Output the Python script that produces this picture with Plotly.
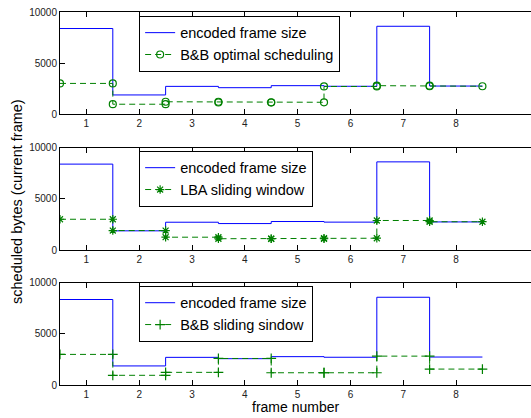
import plotly.graph_objects as go
from plotly.subplots import make_subplots

frames = [1, 2, 3, 4, 5, 6, 7, 8]
encoded_size = [8380, 1870, 2710, 2580, 2780, 2720, 8600, 2740]
bb_optimal = [3000, 960, 1200, 1130, 1150, 2700, 2780, 2720]
lba_sliding = [3000, 1900, 1250, 1100, 1100, 1150, 2880, 2760]
bb_sliding = [3000, 950, 1240, 2600, 1200, 1200, 2830, 1560]

x_ticks = [1, 2, 3, 4, 5, 6, 7, 8]
y_ticks = [0, 5000, 10000]
y_tick_text = ["0", "5000", "10000"]

series = [
    ("B&B optimal scheduling", bb_optimal, "circle-open"),
    ("LBA sliding window", lba_sliding, "asterisk-open"),
    ("B&B sliding sindow", bb_sliding, "cross-thin-open"),
]

FONT = "Liberation Sans, Arial, Helvetica, sans-serif"
BLUE = "#0000FF"
GREEN = "#008000"

fig = make_subplots(rows=3, cols=1, vertical_spacing=0.0)

stair_x = [f - 0.5 for f in frames] + [frames[-1] + 0.5]
stair_y = encoded_size + [encoded_size[-1]]

domains = [[0.7265, 1.0], [0.3619, 0.6367], [0.0, 0.2735]]
legend_tops = [0.990, 0.628, 0.266]

for i, (name, vals, sym) in enumerate(series):
    row = i + 1
    lg = "legend" if i == 0 else f"legend{i + 1}"
    fig.add_trace(go.Scatter(
        x=stair_x, y=stair_y, mode="lines", line_shape="hv",
        line=dict(color=BLUE, width=1), name="encoded frame size",
        legend=lg, showlegend=True,
    ), row=row, col=1)
    gx, gy = [], []
    for f, v in zip(frames, vals):
        gx += [f - 0.5, f + 0.5]
        gy += [v, v]
    fig.add_trace(go.Scatter(
        x=gx, y=gy, mode="lines+markers",
        line=dict(color=GREEN, width=1, dash="6px,4px"),
        marker=dict(symbol=sym, size=7, color=GREEN, line=dict(color=GREEN, width=1.2)),
        name=name, legend=lg, showlegend=True,
    ), row=row, col=1)

    ax = "" if row == 1 else str(row)
    fig.layout[f"xaxis{ax}"].update(
        range=[0.5, 9.42], tickvals=x_ticks, ticks="inside", ticklen=5,
        tickcolor="black", automargin=False,
        showline=True, linecolor="black", linewidth=1, mirror="ticks",
        showgrid=False, zeroline=False, tickfont=dict(size=10, color="#222", family=FONT),
    )
    fig.layout[f"yaxis{ax}"].update(
        range=[0, 10000], tickvals=y_ticks, ticktext=y_tick_text, ticks="inside", ticklen=5,
        tickcolor="black", automargin=False,
        showline=True, linecolor="black", linewidth=1, mirror=False,
        showgrid=False, zeroline=False, domain=domains[i],
        tickfont=dict(size=10, color="#222", family=FONT),
    )
    fig.layout[lg] = dict(
        x=0.168, y=legend_tops[i], xanchor="left", yanchor="top",
        bgcolor="white", bordercolor="black", borderwidth=1,
        font=dict(size=14.5, family=FONT, color="black"),
        itemwidth=30, tracegroupgap=0,
    )

fig.add_annotation(
    text="frame number", xref="paper", yref="paper", x=0.5, y=-0.059,
    xanchor="center", yanchor="middle", showarrow=False,
    font=dict(size=14, family=FONT, color="black"),
)
fig.add_annotation(
    text="scheduled bytes (current frame)", textangle=-90,
    xref="paper", yref="paper", x=-0.0913, y=0.4933,
    xanchor="center", yanchor="middle",
    showarrow=False, font=dict(size=14.5, family=FONT, color="black"),
)

fig.update_layout(
    template="none",
    width=531, height=418,
    margin=dict(l=60, r=0, t=12, b=33, autoexpand=False),
    plot_bgcolor="white", paper_bgcolor="white",
    font=dict(family=FONT),
)

fig.write_html(
    "out.html",
    config={"displayModeBar": False},
    post_script="document.body.style.margin='0px';document.body.style.overflow='hidden';",
)
